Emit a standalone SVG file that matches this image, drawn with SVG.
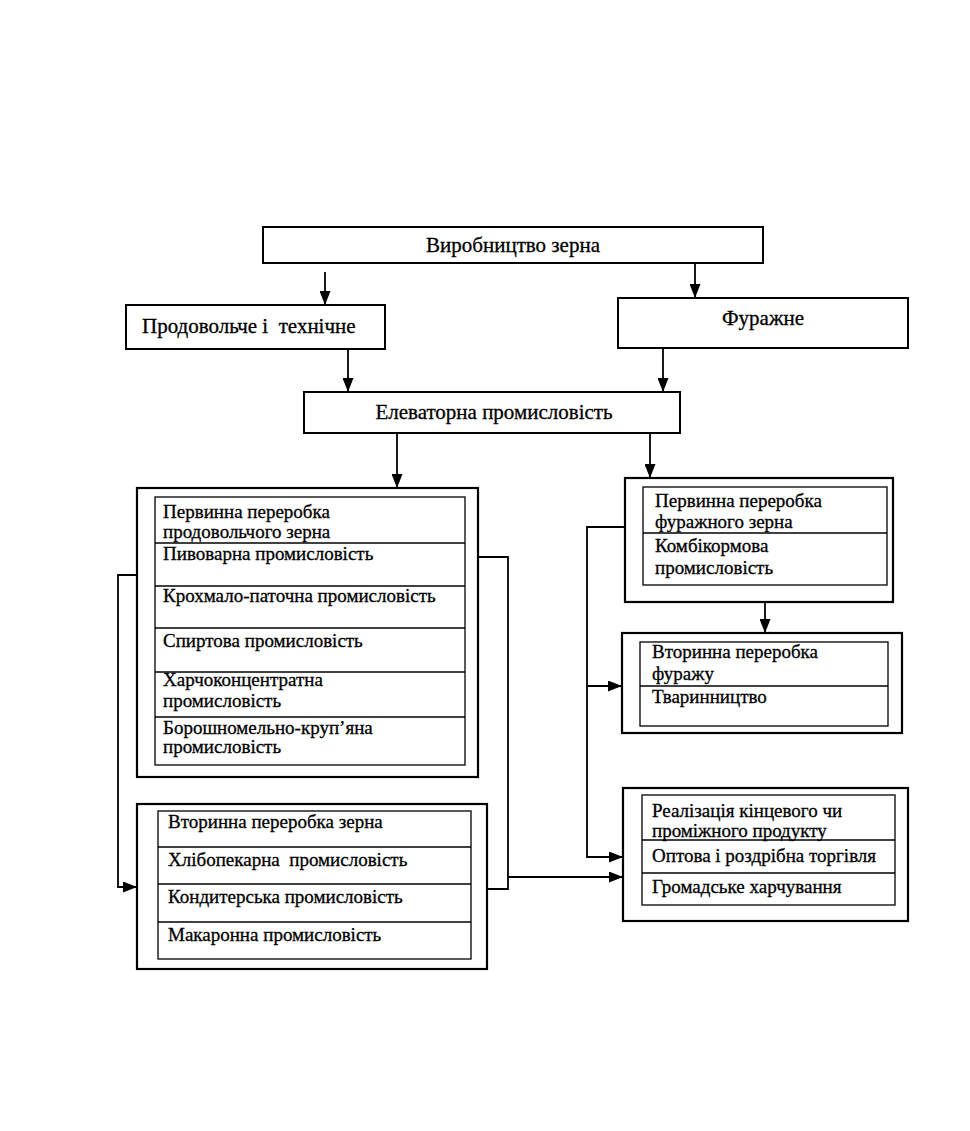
<svg xmlns="http://www.w3.org/2000/svg" width="970" height="1131" viewBox="0 0 970 1131">
<style>
  .bg { fill: #ffffff; }
  .top { fill: #ffffff; stroke: #000; stroke-width: 2; }
  .outer { fill: #ffffff; stroke: #000; stroke-width: 2.2; }
  .inner { fill: none; stroke: #000; stroke-width: 1.3; }
  .div { stroke: #000; stroke-width: 1.3; }
  .conn { fill: none; stroke: #000; stroke-width: 1.8; }
  .t1 { font-family: "Liberation Serif", "Times New Roman", serif; font-size: 21px; fill: #000; stroke: #000; stroke-width: 0.3; }
  .t2 { font-family: "Liberation Serif", "Times New Roman", serif; font-size: 19px; fill: #000; stroke: #000; stroke-width: 0.3; }
  .pre { white-space: pre; }
</style>
<defs>
  <marker id="arr" viewBox="0 0 14 11" refX="14" refY="5.5" markerWidth="14" markerHeight="11" orient="auto" markerUnits="userSpaceOnUse">
    <path d="M0,0 L14,5.5 L0,11 z" fill="#000"/>
  </marker>
</defs>
<rect class="bg" x="0" y="0" width="970" height="1131"/>

<g id="connectors">
  <line class="conn" x1="325" y1="272" x2="325" y2="305" marker-end="url(#arr)"/>
  <line class="conn" x1="695" y1="263" x2="695" y2="298" marker-end="url(#arr)"/>
  <line class="conn" x1="348" y1="349" x2="348" y2="392" marker-end="url(#arr)"/>
  <line class="conn" x1="663" y1="348" x2="663" y2="392" marker-end="url(#arr)"/>
  <line class="conn" x1="397" y1="433" x2="397" y2="488" marker-end="url(#arr)"/>
  <line class="conn" x1="650" y1="433" x2="650" y2="478" marker-end="url(#arr)"/>
  <line class="conn" x1="765" y1="602" x2="765" y2="633" marker-end="url(#arr)"/>
  <path class="conn" d="M137,575 H118 V887 H137" marker-end="url(#arr)"/>
  <path class="conn" d="M478,557 H508 V889 H487"/>
  <path class="conn" d="M508,877 H623" marker-end="url(#arr)"/>
  <path class="conn" d="M625,527 H587 V857 H623" marker-end="url(#arr)"/>
  <path class="conn" d="M587,686 H622" marker-end="url(#arr)"/>
</g>

<g id="n-vyrobnytstvo">
  <rect class="top" x="263" y="227" width="500" height="36"/>
  <text class="t1" x="513" y="252" text-anchor="middle">Виробництво зерна</text>
</g>

<g id="n-prodovolche">
  <rect class="top" x="126" y="305" width="259" height="44"/>
  <text class="t1 pre" x="142" y="333" xml:space="preserve">Продовольче і  технічне</text>
</g>

<g id="n-furazhne">
  <rect class="top" x="618" y="298" width="290" height="50"/>
  <text class="t1" x="763" y="325" text-anchor="middle">Фуражне</text>
</g>

<g id="n-elevatorna">
  <rect class="top" x="304" y="392" width="376" height="41"/>
  <text class="t1" x="494" y="419" text-anchor="middle">Елеваторна промисловість</text>
</g>

<g id="n-pervynna-prod">
  <rect class="outer" x="137" y="488" width="341" height="289"/>
  <rect class="inner" x="155" y="497" width="310" height="268"/>
  <line class="div" x1="155" y1="543" x2="465" y2="543"/>
  <line class="div" x1="155" y1="586" x2="465" y2="586"/>
  <line class="div" x1="155" y1="628" x2="465" y2="628"/>
  <line class="div" x1="155" y1="672" x2="465" y2="672"/>
  <line class="div" x1="155" y1="717" x2="465" y2="717"/>
  <text class="t2" x="163" y="518">Первинна переробка</text>
  <text class="t2" x="163" y="538">продовольчого зерна</text>
  <text class="t2" x="163" y="560">Пивоварна промисловість</text>
  <text class="t2" x="163" y="602">Крохмало-паточна промисловість</text>
  <text class="t2" x="163" y="647">Спиртова промисловість</text>
  <text class="t2" x="163" y="686">Харчоконцентратна</text>
  <text class="t2" x="163" y="707">промисловість</text>
  <text class="t2" x="163" y="734">Борошномельно-круп’яна</text>
  <text class="t2" x="163" y="753">промисловість</text>
</g>

<g id="n-vtorynna-zerna">
  <rect class="outer" x="137" y="804" width="350" height="165"/>
  <rect class="inner" x="158" y="811" width="313" height="148"/>
  <line class="div" x1="158" y1="847" x2="471" y2="847"/>
  <line class="div" x1="158" y1="884" x2="471" y2="884"/>
  <line class="div" x1="158" y1="922" x2="471" y2="922"/>
  <text class="t2" x="168" y="828">Вторинна переробка зерна</text>
  <text class="t2 pre" x="168" y="866" xml:space="preserve">Хлібопекарна  промисловість</text>
  <text class="t2" x="168" y="903">Кондитерська промисловість</text>
  <text class="t2" x="168" y="941">Макаронна промисловість</text>
</g>

<g id="n-pervynna-furazh">
  <rect class="outer" x="625" y="478" width="268" height="124"/>
  <rect class="inner" x="643" y="487" width="244" height="98"/>
  <line class="div" x1="643" y1="533" x2="887" y2="533"/>
  <text class="t2" x="655" y="507">Первинна переробка</text>
  <text class="t2" x="655" y="528">фуражного зерна</text>
  <text class="t2" x="655" y="552">Комбікормова</text>
  <text class="t2" x="655" y="574">промисловість</text>
</g>

<g id="n-vtorynna-furazh">
  <rect class="outer" x="622" y="633" width="280" height="100"/>
  <rect class="inner" x="640" y="642" width="248" height="84"/>
  <line class="div" x1="640" y1="686" x2="888" y2="686"/>
  <text class="t2" x="652" y="658">Вторинна переробка</text>
  <text class="t2" x="652" y="680">фуражу</text>
  <text class="t2" x="652" y="703">Тваринництво</text>
</g>

<g id="n-realizatsiya">
  <rect class="outer" x="623" y="788" width="285" height="133"/>
  <rect class="inner" x="642" y="795" width="253" height="110"/>
  <line class="div" x1="642" y1="840" x2="895" y2="840"/>
  <line class="div" x1="642" y1="873" x2="895" y2="873"/>
  <text class="t2" x="652" y="817">Реалізація кінцевого чи</text>
  <text class="t2" x="652" y="837">проміжного продукту</text>
  <text class="t2" x="652" y="862">Оптова і роздрібна торгівля</text>
  <text class="t2" x="652" y="893">Громадське харчування</text>
</g>
</svg>
